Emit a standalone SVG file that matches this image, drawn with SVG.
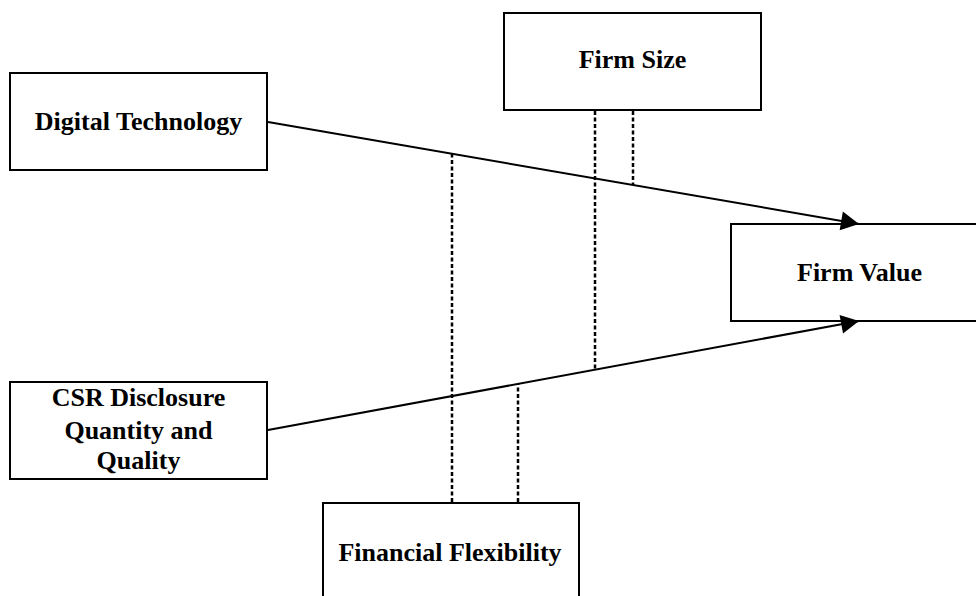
<svg xmlns="http://www.w3.org/2000/svg" width="976" height="596" viewBox="0 0 976 596">
  <style>
    .box { fill: #ffffff; stroke: #000000; stroke-width: 2; }
    .lbl { font-family: "Liberation Serif", "DejaVu Serif", serif; font-weight: bold; font-size: 26px; fill: #000000; text-anchor: middle; }
    .arrow { stroke: #000000; stroke-width: 2; fill: none; }
    .dot { stroke: #000000; stroke-width: 2.5; stroke-dasharray: 4 2.5; fill: none; }
  </style>
  <defs>
    <marker id="head" markerUnits="userSpaceOnUse" markerWidth="22" markerHeight="22" refX="18" refY="9.5" orient="auto" viewBox="0 0 22 22" overflow="visible">
      <path d="M0,0 L18,9.5 L0,19 z" fill="#000000"/>
    </marker>
  </defs>
  <rect width="976" height="596" fill="#ffffff"/>

  <g id="digital-technology">
    <rect class="box" x="10" y="73" width="257" height="97"/>
    <text class="lbl" x="138.5" y="130">Digital Technology</text>
  </g>

  <g id="firm-size">
    <rect class="box" x="504" y="13" width="257" height="97"/>
    <text class="lbl" x="632.5" y="68">Firm Size</text>
  </g>

  <g id="firm-value">
    <rect class="box" x="731" y="224" width="257" height="97"/>
    <text class="lbl" x="859.5" y="281">Firm Value</text>
  </g>

  <g id="csr-disclosure">
    <rect class="box" x="10" y="382" width="257" height="97"/>
    <text class="lbl" x="138.5" y="406">CSR Disclosure</text>
    <text class="lbl" x="138.5" y="439">Quantity and</text>
    <text class="lbl" x="138.5" y="469">Quality</text>
  </g>

  <g id="financial-flexibility">
    <rect class="box" x="323" y="503" width="256" height="100"/>
    <text class="lbl" x="450" y="561">Financial Flexibility</text>
  </g>

  <g id="connectors">
    <line class="arrow" x1="268" y1="122" x2="859" y2="224" marker-end="url(#head)"/>
    <line class="arrow" x1="268" y1="430" x2="859" y2="321" marker-end="url(#head)"/>
    <line class="dot" x1="595" y1="111" x2="595" y2="370"/>
    <line class="dot" x1="633" y1="111" x2="633" y2="185"/>
    <line class="dot" x1="452" y1="502" x2="452" y2="154"/>
    <line class="dot" x1="518" y1="502" x2="518" y2="384"/>
  </g>
</svg>
